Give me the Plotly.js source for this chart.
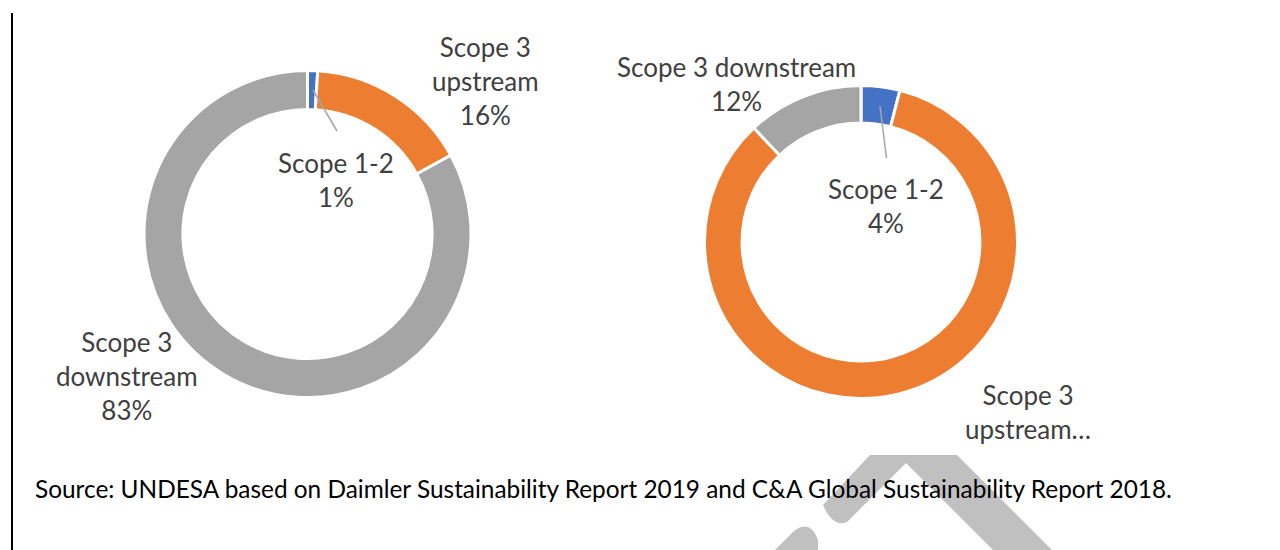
<!DOCTYPE html>
<html><head><meta charset="utf-8">
<script src="https://cdn.plot.ly/plotly-3.0.1.min.js"></script>
<style>html,body{margin:0;padding:0;background:#fff}#chart{width:1280px;height:550px}</style>
</head><body><div id="chart"></div>
<script>
// ---- data ----
const categories = ["Scope 1-2", "Scope 3 upstream", "Scope 3 downstream"];
const daimlerValues = [1, 16, 83];
const caValues = [4, 84, 12];
const daimlerLabels = ["Scope 1-2<br>1%", "Scope 3<br>upstream<br>16%", "Scope 3<br>downstream<br>83%"];
const caLabels = ["Scope 1-2<br>4%", "Scope 3<br>upstream…", "Scope 3 downstream<br>12%"];
const sourceText = "Source: UNDESA based on Daimler Sustainability Report 2019 and C&A Global Sustainability Report 2018.";

// ---- styling ----
const W = 1280, H = 550;
const sliceColors = ["#4472C4", "#ED7D31", "#A5A5A5"];
const px = x => x / W;
const py = y => 1 - y / H;
function domainFor(cx, cy, r) {
  return { x: [px(cx - r), px(cx + r)], y: [py(cy + r), py(cy - r)] };
}
const labelFont = { family: "Lato, 'Open Sans', sans-serif", size: 26, color: "#404040" };

const traces = [
  {
    type: "pie", labels: categories, values: daimlerValues, sort: false,
    direction: "clockwise", rotation: 0, hole: 0.762,
    domain: domainFor(307.5, 234, 163.5),
    marker: { colors: sliceColors, line: { color: "#ffffff", width: 3 } },
    textinfo: "none", hoverinfo: "label+percent", showlegend: false
  },
  {
    type: "pie", labels: categories, values: caValues, sort: false,
    direction: "clockwise", rotation: 0, hole: 0.76,
    domain: domainFor(861, 242, 156.5),
    marker: { colors: sliceColors, line: { color: "#ffffff", width: 3 } },
    textinfo: "none", hoverinfo: "label+percent", showlegend: false
  }
];

const leftPos = [[336, 180], [485, 81], [127, 376]];
const rightPos = [[886, 206], [1028, 412], [736, 84]];
const annotations = [];
daimlerLabels.forEach((t, i) => annotations.push({
  x: px(leftPos[i][0]), y: py(leftPos[i][1]), xref: "paper", yref: "paper",
  text: t, showarrow: false, xanchor: "center", yanchor: "middle", font: labelFont
}));
caLabels.forEach((t, i) => annotations.push({
  x: px(rightPos[i][0]), y: py(rightPos[i][1]), xref: "paper", yref: "paper",
  text: t, showarrow: false, xanchor: "center", yanchor: "middle", font: labelFont
}));
annotations.push({
  x: px(33), y: py(488), xref: "paper", yref: "paper", text: sourceText,
  showarrow: false, xanchor: "left", yanchor: "middle",
  font: { family: "Lato, 'Open Sans', sans-serif", size: 24.4, color: "#000000" }
});

function pathOf(pts) { // pts: array of [cmd, x, y, ...]
  return pts.map(p => {
    const c = p[0], a = p.slice(1);
    const s = [];
    for (let i = 0; i < a.length; i += 2) s.push(px(a[i]) + "," + py(a[i + 1]));
    return c + s.join(" ");
  }).join(" ");
}
const wm = "#C0C0C0";
const shapes = [
  // left vertical rule
  { type: "line", xref: "paper", yref: "paper", x0: px(12), x1: px(12), y0: py(13), y1: py(550),
    line: { color: "#000000", width: 2 } },
  // leader lines
  { type: "line", xref: "paper", yref: "paper", x0: px(313), y0: py(90), x1: px(337), y1: py(131),
    line: { color: "#A6A6A6", width: 1.5 } },
  { type: "line", xref: "paper", yref: "paper", x0: px(880), y0: py(106), x1: px(886.5), y1: py(158),
    line: { color: "#A6A6A6", width: 1.5 } },
  // watermark roof
  { type: "path", xref: "paper", yref: "paper", fillcolor: wm, line: { width: 0 }, layer: "below",
    path: pathOf([["M", 870, 455], ["L", 957, 455], ["L", 1052, 550], ["L", 993, 550], ["L", 906, 463],
      ["L", 847, 522], ["Q", 833, 528, 823, 505], ["Z"]]) },
  // watermark fragment
  { type: "path", xref: "paper", yref: "paper", fillcolor: wm, line: { width: 0 }, layer: "below",
    path: pathOf([["M", 775, 550], ["L", 793, 532], ["Q", 810, 518, 818, 540], ["L", 818, 550], ["Z"]]) }
];

const layout = {
  width: W, height: H, margin: { l: 0, r: 0, t: 0, b: 0 },
  paper_bgcolor: "#ffffff", plot_bgcolor: "#ffffff",
  showlegend: false, annotations: annotations, shapes: shapes
};
Plotly.newPlot("chart", traces, layout, { displayModeBar: false, staticPlot: true });
</script>
</body></html>
